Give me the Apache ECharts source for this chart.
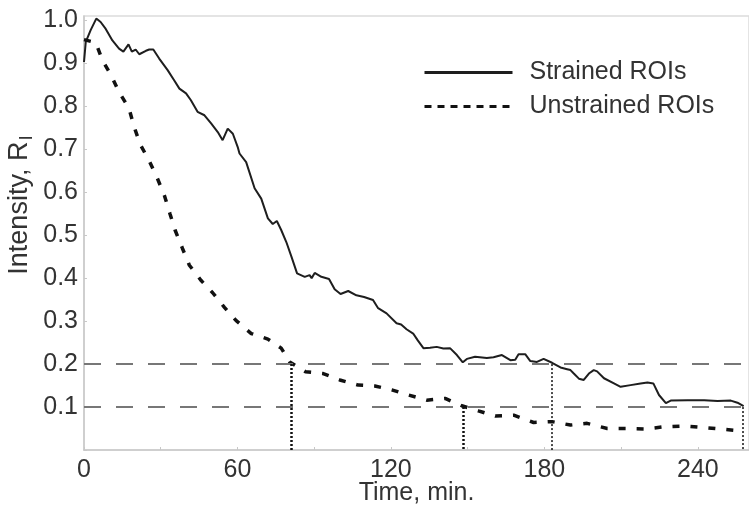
<!DOCTYPE html>
<html>
<head>
<meta charset="utf-8">
<script src="https://cdn.jsdelivr.net/npm/echarts@6/dist/echarts.min.js"></script>
<style>
  html, body { margin: 0; padding: 0; background: #fff; }
  #chart { width: 749px; height: 508px; }
</style>
</head>
<body>
<div id="chart"></div>
<script>
// Strained ROIs (solid line)
const strainedTime = [
  0, 0.7, 2.6, 4.8, 6.5, 8.5, 11.1, 13.7, 15.4, 17.4, 18.7, 20.2, 21.6, 24.2, 25.5, 27.1,
  29.4, 32.7, 35.3, 37.3, 39.9, 41.8, 44.4, 47.1, 49.7, 52.3, 54.2, 56.2, 58.2, 60.1, 60.8,
  63.4, 66.7, 69.3, 71.9, 73.8, 75.4, 77.1, 79.1, 81.1, 83.3, 86.3, 88.2, 89.0, 90.2, 92.8,
  95.8, 98, 100.3, 103.3, 106.5, 109.5, 113, 115, 118.3, 122.2, 124, 126.1, 128.7, 130.5,
  132.7, 135.3, 137.9, 140.5, 143.1, 145.8, 148.1, 149.7, 152.9, 157.5, 160.1, 163.4, 166.7,
  168.6, 169.9, 172.5, 174.5, 177.1, 179.7, 183, 186.3, 188.9, 190.2, 191.5, 193.5, 195.4,
  197.4, 199.3, 200.6, 203.3, 207.2, 209.8, 213.7, 217.6, 220.3, 222.6, 224.8, 227.5, 229.4,
  236, 242.5, 247.7, 252.9, 255.5, 257.9
];
const strainedValue = [
  0.903, 0.95, 0.977, 1.004, 0.996, 0.98, 0.953, 0.934, 0.927, 0.944, 0.927, 0.932, 0.921, 0.929, 0.932, 0.932,
  0.911, 0.884, 0.86, 0.841, 0.83, 0.814, 0.787, 0.779, 0.76, 0.74, 0.721, 0.748, 0.736, 0.705, 0.69,
  0.67, 0.609, 0.585, 0.539, 0.526, 0.533, 0.512, 0.484, 0.45, 0.411, 0.403, 0.407, 0.4, 0.412, 0.403,
  0.398, 0.374, 0.363, 0.37, 0.36, 0.356, 0.349, 0.33, 0.318, 0.295, 0.292, 0.281, 0.271, 0.255,
  0.237, 0.238, 0.24, 0.236, 0.237, 0.221, 0.204, 0.212, 0.217, 0.214, 0.216, 0.221, 0.209,
  0.21, 0.223, 0.223, 0.207, 0.205, 0.212, 0.203, 0.192, 0.188, 0.186, 0.178, 0.166, 0.163,
  0.178, 0.186, 0.183, 0.167, 0.155, 0.147, 0.151, 0.155, 0.157, 0.155, 0.128, 0.109, 0.115,
  0.116, 0.116, 0.114, 0.115, 0.11, 0.102
];

// Unstrained ROIs (dotted line)
const unstrainedTime = [
  0, 4.6, 7.2, 10.7, 13.7, 17.6, 19.6, 22.0, 25.5, 28.7, 31.4, 33.6, 35.6, 38.5, 41.2, 45.7,
  50.3, 54.9, 59.5, 65.4, 71.9, 77.1, 80.4, 81.1, 86.6, 93.5, 100, 107.2, 113.7, 120.3, 126.8,
  134, 141.2, 147.7, 154.2, 160.8, 168, 175.8, 183, 190.2, 196.7, 204.6, 211.8, 219.6, 226.8,
  234.6, 242.5, 250.3, 257.5
];
const unstrainedValue = [
  0.955, 0.948, 0.907, 0.871, 0.833, 0.795, 0.752, 0.711, 0.673, 0.632, 0.593, 0.55, 0.512, 0.469, 0.43, 0.395,
  0.366, 0.332, 0.301, 0.271, 0.258, 0.237, 0.205, 0.202, 0.182, 0.178, 0.163, 0.151, 0.149, 0.14, 0.128,
  0.116, 0.12, 0.103, 0.091, 0.079, 0.081, 0.064, 0.066, 0.058, 0.062, 0.05, 0.05, 0.049, 0.054,
  0.056, 0.052, 0.048, 0.044
];

// threshold levels and the times each curve crosses them
const levels = [0.1, 0.2];
const crossTime = [81, 148.4, 183, 257.5];
const crossLevel = [0.2, 0.1, 0.2, 0.1];
const crossWidth = [2.5, 2.5, 1.5, 1.5];

const xLabelStep = 60;

const font = 'Liberation Sans';
const textColor = '#333';
const chart = echarts.init(document.getElementById('chart'));

const zip = (a, b) => a.map((v, i) => [v, b[i]]);
// hide the circle that the legend adds to line icons
const noSymbol = { color: 'rgba(0,0,0,0)', borderColor: 'rgba(0,0,0,0)', borderWidth: 0 };

const option = {
  animation: false,
  backgroundColor: '#fff',
  grid: {
    left: 84, right: 0, top: 16, bottom: 58,
    outerBoundsMode: 'none',
    show: true, borderColor: '#dcdcdc', borderWidth: 1.5
  },
  legend: {
    orient: 'vertical',
    left: 418, top: 55,
    itemWidth: 88, itemHeight: 14, itemGap: 9,
    textStyle: { fontFamily: font, fontSize: 25, color: textColor, lineHeight: 25, padding: [0, 0, 0, 12] },
    data: [
      { name: 'Strained ROIs', itemStyle: noSymbol, lineStyle: { width: 3 } },
      { name: 'Unstrained ROIs', itemStyle: noSymbol, lineStyle: { width: 3, type: [7, 6] } }
    ]
  },
  xAxis: {
    type: 'value',
    min: 0, max: 260, interval: 30,
    name: 'Time, min.',
    nameLocation: 'middle', nameGap: 31,
    nameMoveOverlap: false,
    nameTextStyle: { fontFamily: font, fontSize: 25, color: textColor },
    axisLine: { lineStyle: { color: '#c8c8c8', width: 1.5 } },
    axisTick: { show: true, inside: true, length: 3, lineStyle: { color: '#c8c8c8' } },
    axisLabel: {
      fontFamily: font, fontSize: 25, color: textColor, margin: 8,
      formatter: v => (v % xLabelStep === 0 ? String(v) : '')
    },
    splitLine: { show: false }
  },
  yAxis: {
    type: 'value',
    min: 0, max: 1.01, interval: 0.1,
    name: '{a|Intensity, R}{b|I}',
    nameLocation: 'middle', nameGap: 48,
    nameMoveOverlap: false,
    nameTextStyle: {
      fontFamily: font, color: textColor,
      padding: [0, 0, 0, 56],
      rich: {
        a: { fontFamily: font, fontSize: 27, color: textColor },
        b: { fontFamily: font, fontSize: 19, color: textColor, padding: [13, 0, 0, 1] }
      }
    },
    axisLine: { show: true, lineStyle: { color: '#c8c8c8', width: 1.5 } },
    axisTick: { show: true, inside: true, length: 3, lineStyle: { color: '#c8c8c8' } },
    axisLabel: {
      fontFamily: font, fontSize: 25, color: textColor, margin: 6,
      formatter: v => (v === 0 ? '' : v.toFixed(1))
    },
    splitLine: { show: false }
  },
  series: [
    {
      name: 'Strained ROIs',
      type: 'line',
      data: zip(strainedTime, strainedValue),
      showSymbol: false, symbol: 'none',
      lineStyle: { color: '#1e1e1e', width: 2 },
      itemStyle: { color: '#1e1e1e' },
      z: 3,
      markLine: {
        silent: true, symbol: 'none', label: { show: false },
        lineStyle: { color: '#777', width: 2, type: [17, 15] },
        data: levels.map(l => ({ yAxis: l }))
      }
    },
    {
      name: 'Unstrained ROIs',
      type: 'line',
      data: zip(unstrainedTime, unstrainedValue),
      showSymbol: false, symbol: 'none',
      lineStyle: { color: '#111', width: 3.5, type: [7, 11] },
      itemStyle: { color: '#111' },
      z: 3,
      markLine: {
        silent: true, symbol: 'none', label: { show: false },
        data: crossTime.map((t, i) => [
          { coord: [t, crossLevel[i]], lineStyle: { color: '#111', width: crossWidth[i], type: [2, 2] } },
          { coord: [t, 0] }
        ])
      }
    }
  ]
};

chart.setOption(option);
window.addEventListener('resize', () => chart.resize());
</script>
</body>
</html>
